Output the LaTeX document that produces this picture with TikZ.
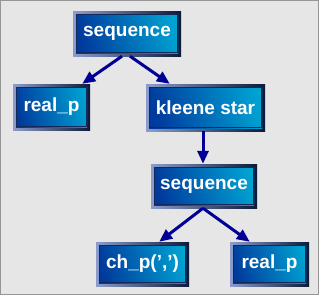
\documentclass[tikz,border=0pt]{standalone}
\usepackage{fontspec}
\setmainfont{Liberation Sans}
\usetikzlibrary{arrows.meta}
\definecolor{bgc}{RGB}{230,230,230}
\definecolor{bdc}{RGB}{150,150,150}
\definecolor{framel}{RGB}{140,156,204}
\definecolor{framed}{RGB}{12,26,58}
\definecolor{fillL}{RGB}{0,58,156}
\definecolor{fillR}{RGB}{0,162,210}
\definecolor{innerline}{RGB}{20,40,90}
\definecolor{arrc}{RGB}{0,0,150}
\tikzset{
  nbox/.style={rectangle, inner sep=0pt, minimum height=45pt, text=white,
    font=\fontsize{19}{22}\selectfont\bfseries,
    left color=framel, right color=framed,
    path picture={
      \shade[left color=fillL, right color=fillR, shading angle=105]
        ([shift={(3pt,3pt)}]path picture bounding box.south west) rectangle
        ([shift={(-3pt,-3pt)}]path picture bounding box.north east);
      \draw[line width=0.8pt, innerline]
        ([shift={(3.4pt,3.4pt)}]path picture bounding box.south west) rectangle
        ([shift={(-3.4pt,-3.4pt)}]path picture bounding box.north east);
    }},
  arr/.style={draw=arrc, line width=3pt, -{Triangle[length=13pt,width=11pt]}}
}
\begin{document}
\begin{tikzpicture}[x=1pt,y=-1pt]
\fill[bgc] (0,0) rectangle (319,295);
\draw[bdc, line width=1pt] (0.5,0.5) rectangle (318.5,294.5);
\useasboundingbox (0,0) rectangle (319,295);
\node[nbox, minimum width=108pt, minimum height=45pt] (s1) at (127,33.5) {sequence};
\node[nbox, minimum width=77pt, minimum height=46pt] (r1) at (51.5,107) {real\_p};
\node[nbox, minimum width=119pt, minimum height=47pt] (k) at (205.5,107.5) {kleene star};
\node[nbox, minimum width=106pt, minimum height=44pt] (s2) at (204,186) {sequence};
\node[nbox, minimum width=93pt, minimum height=44pt] (c) at (142.5,264) {ch\_p(',')};
\node[nbox, minimum width=79pt, minimum height=44pt] (r2) at (269.5,264) {real\_p};
\draw[arr] ([xshift=-5pt]s1.south) -- ([xshift=-8pt]r1.north east);
\draw[arr] ([xshift=3pt]s1.south) -- ([xshift=24pt]k.north west);
\draw[arr] ([xshift=-2.5pt]k.south) -- ([xshift=-1pt]s2.north);
\draw[arr] ([xshift=-1pt]s2.south) -- ([xshift=-30pt]c.north east);
\draw[arr] ([xshift=-1pt]s2.south) -- ([xshift=20pt]r2.north west);
\end{tikzpicture}
\end{document}
